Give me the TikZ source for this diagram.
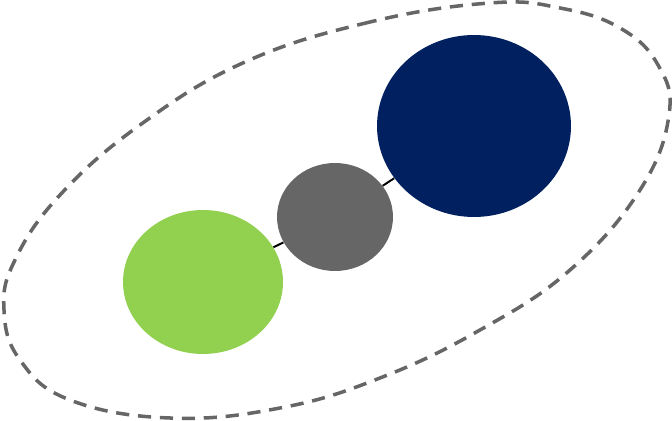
\documentclass[tikz,border=0pt]{standalone}
\usepackage{tikz}
\usetikzlibrary{shapes.geometric}
\definecolor{navyblob}{RGB}{0,32,96}
\definecolor{greyblob}{RGB}{102,102,102}
\definecolor{greenblob}{RGB}{146,208,80}
\tikzset{
	blob/.style={ellipse, inner sep=0pt, draw=none},
	loopline/.style={greyblob, line width=2pt, dash pattern=on 7.5pt off 5pt},
}
\begin{document}
\begin{tikzpicture}[x=0.02cm, y=-0.02cm] % {{{
\useasboundingbox (0,0) rectangle (672,421);
% dashed loop round the three blobs
\draw[loopline] plot[smooth cycle, tension=0.7] coordinates {
	(490,3) (370,22) (245,62) (140,125) (60,195) (15,260) (4,310)
	(20,360) (70,400) (170,418) (280,408) (380,378) (480,330)
	(570,270) (640,190) (669,115) (658,65) (620,28) (560,8)};
% blobs
\node[blob, fill=greenblob, minimum width=3.2cm, minimum height=2.88cm] (green) at (203,282) {};
\node[blob, fill=greyblob, minimum width=2.32cm, minimum height=2.16cm] (grey) at (335,217) {};
\node[blob, fill=navyblob, minimum width=3.88cm, minimum height=3.64cm] (navy) at (474,126) {};
% connectors
\draw[line width=1.1pt] (green) -- (grey);
\draw[line width=1.1pt] (grey) -- (navy);
\end{tikzpicture} % }}}
\end{document}
